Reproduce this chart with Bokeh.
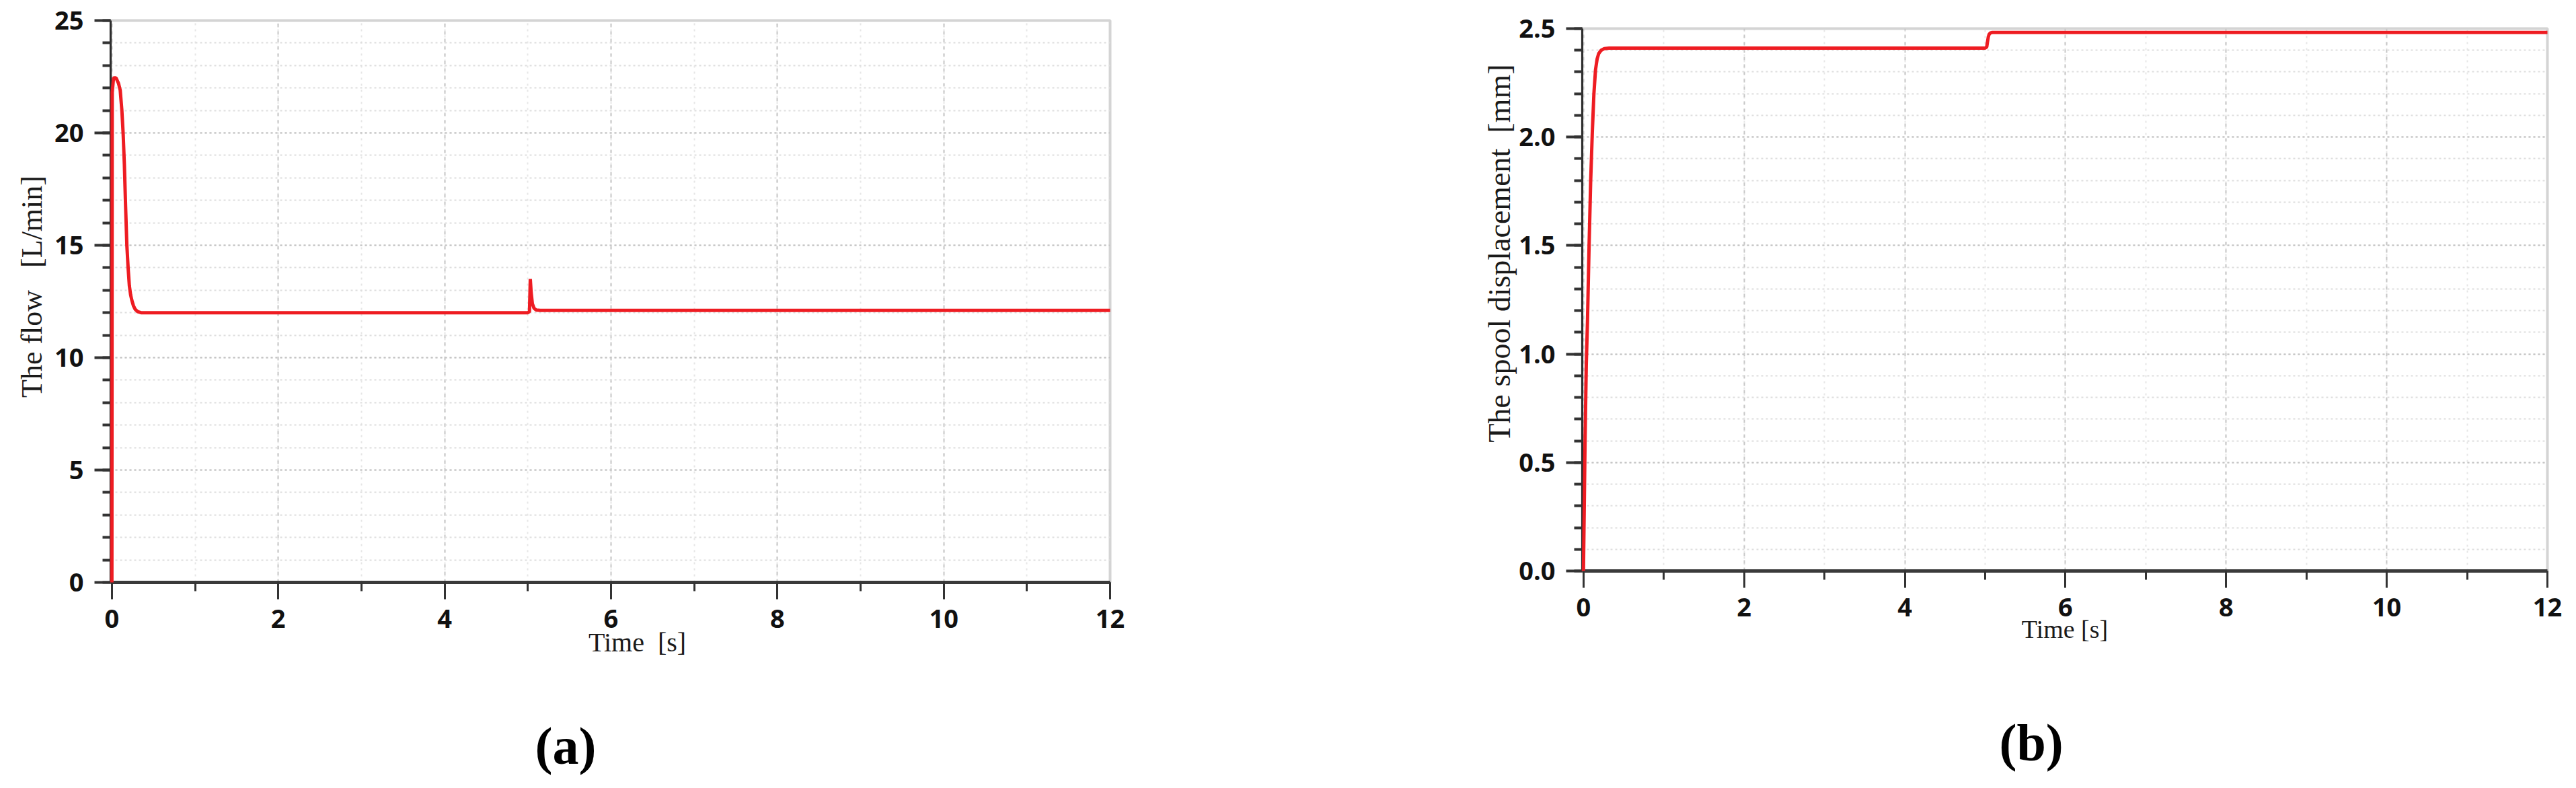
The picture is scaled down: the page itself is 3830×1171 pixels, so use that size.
from bokeh.plotting import figure
from bokeh.layouts import row
from bokeh.models import Range1d, SingleIntervalTicker, PrintfTickFormatter, Title
from bokeh.embed import file_html
from bokeh.resources import INLINE

# ---------------- data ----------------
time_a = [0.0, 0.004, 0.02, 0.05, 0.08, 0.10, 0.12, 0.135, 0.15, 0.165,
          0.18, 0.195, 0.21, 0.225, 0.24, 0.26, 0.28, 0.31, 0.35, 0.45,
          1.0, 2.0, 3.0, 4.0, 5.0, 5.02, 5.03, 5.04, 5.055, 5.075,
          5.1, 5.15, 5.25, 6.0, 8.0, 10.0, 12.0]
flow_a = [0.0, 21.8, 22.45, 22.45, 22.2, 21.9, 21.0, 20.0, 18.6, 16.7,
          15.0, 14.0, 13.2, 12.8, 12.55, 12.3, 12.15, 12.05, 12.0, 12.0,
          12.0, 12.0, 12.0, 12.0, 12.0, 12.05, 13.5, 12.9, 12.4, 12.2,
          12.12, 12.1, 12.1, 12.1, 12.1, 12.1, 12.1]

time_b = [0.0, 0.01, 0.02, 0.035, 0.05, 0.07, 0.09, 0.11, 0.13, 0.15,
          0.17, 0.19, 0.22, 0.26, 0.32, 0.5, 1.0, 2.0, 3.0, 4.0,
          5.0, 5.02, 5.03, 5.04, 5.05, 5.065, 5.09, 5.15, 6.0, 8.0,
          10.0, 12.0]
spool_b = [0.0, 0.3, 0.6, 0.95, 1.15, 1.5, 1.8, 2.02, 2.2, 2.31,
           2.36, 2.385, 2.40, 2.408, 2.41, 2.41, 2.41, 2.41, 2.41, 2.41,
           2.41, 2.415, 2.44, 2.462, 2.474, 2.48, 2.482, 2.482, 2.482, 2.482,
           2.482, 2.482]

NB = "\u00a0"
x_label_a = NB * 8 + "Time" + NB * 2 + "[s]"
x_label_b = "Time [s]"
y_label_a = NB * 4 + "The flow" + NB * 3 + "[L/min]"
y_label_b = NB * 12 + "The spool displacement" + NB * 2 + "[mm]"
panel_a = "(a)"
panel_b = "(b)"

RED = "#ee1c22"
SERIF = "Liberation Serif"
SANS = "Open Sans"


def make_fig(ymax, y_int, frame_w, frame_h, bl, br, bt, bb, yfmt=None):
    p = figure(output_backend="svg", toolbar_location=None,
               frame_width=frame_w, frame_height=frame_h,
               x_range=Range1d(-0.015, 12), y_range=Range1d(0, ymax),
               min_border_left=bl, min_border_right=br,
               min_border_top=bt, min_border_bottom=bb)
    p.background_fill_color = "white"
    p.border_fill_color = "white"
    p.outline_line_color = "#d4d4d4"
    p.outline_line_width = 4

    xt = SingleIntervalTicker(interval=2, num_minor_ticks=2)
    yt = SingleIntervalTicker(interval=y_int, num_minor_ticks=5)
    p.xaxis.ticker = xt
    p.xgrid.ticker = xt
    p.yaxis.ticker = yt
    p.ygrid.ticker = yt
    if yfmt:
        p.yaxis.formatter = PrintfTickFormatter(format=yfmt)

    # grids
    p.ygrid.grid_line_color = "#c2c2c2"
    p.ygrid.grid_line_dash = "3 4"
    p.ygrid.grid_line_width = 2
    p.ygrid.minor_grid_line_color = "#dedede"
    p.ygrid.minor_grid_line_dash = "3 4"
    p.ygrid.minor_grid_line_width = 2
    p.xgrid.grid_line_color = "#c6c6c6"
    p.xgrid.grid_line_dash = "5 6"
    p.xgrid.grid_line_width = 2
    p.xgrid.minor_grid_line_color = "#e6e6e6"
    p.xgrid.minor_grid_line_dash = "3 6"
    p.xgrid.minor_grid_line_width = 2

    # axes
    p.yaxis.axis_line_color = "#2e2e2e"
    p.yaxis.axis_line_width = 3
    p.yaxis.major_tick_line_color = "#333333"
    p.yaxis.minor_tick_line_color = "#333333"
    p.yaxis.major_tick_line_width = 4
    p.yaxis.minor_tick_line_width = 4
    p.yaxis.major_tick_out = 24
    p.yaxis.major_tick_in = 0
    p.yaxis.minor_tick_out = 12
    p.yaxis.minor_tick_in = 0
    p.yaxis.major_label_standoff = 16

    p.xaxis.axis_line_color = "#3a3a3a"
    p.xaxis.axis_line_width = 5
    p.xaxis.major_tick_line_color = "#333333"
    p.xaxis.minor_tick_line_color = "#333333"
    p.xaxis.major_tick_line_width = 3
    p.xaxis.minor_tick_line_width = 3
    p.xaxis.major_tick_out = 25
    p.xaxis.major_tick_in = 0
    p.xaxis.minor_tick_out = 13
    p.xaxis.minor_tick_in = 0
    p.xaxis.major_label_standoff = 15

    for ax in (p.xaxis, p.yaxis):
        ax.major_label_text_font = SANS
        ax.major_label_text_font_style = "bold"
        ax.major_label_text_font_size = "38px"
        ax.major_label_text_color = "#111111"
        ax.axis_label_text_font = SERIF
        ax.axis_label_text_font_style = "normal"
        ax.axis_label_text_color = "#1a1a1a"
    return p


# ---------------- panel (a) ----------------
pa = make_fig(25, 5, 1486, 835, 164, 350, 33, 295)
pa.margin = (-12, 0, 0, 0)
ra = pa.line(time_a, flow_a, line_color=RED, line_width=5)
ra.level = "overlay"
pa.xaxis.axis_label = x_label_a
pa.xaxis.axis_label_text_font_size = "40px"
pa.xaxis.axis_label_standoff = -4
pa.yaxis.axis_label = y_label_a
pa.yaxis.axis_label_text_font_size = "44px"
pa.yaxis.axis_label_standoff = 6
pa.add_layout(Title(text=panel_a, text_font=SERIF, text_font_style="bold",
                    text_font_size="78px", text_color="black",
                    align="left", offset=631, standoff=167), "below")

# ---------------- panel (b) ----------------
pb = make_fig(2.5, 0.5, 1435, 806, 352, 25, 42, 305, yfmt="%.1f")
rb = pb.line(time_b, spool_b, line_color=RED, line_width=5)
rb.level = "overlay"
pb.xaxis.axis_label = x_label_b
pb.xaxis.axis_label_text_font_size = "38px"
pb.xaxis.axis_label_standoff = -5
pb.yaxis.axis_label = y_label_b
pb.yaxis.axis_label_text_font_size = "46px"
pb.yaxis.axis_label_standoff = 0
pb.add_layout(Title(text=panel_b, text_font=SERIF, text_font_style="bold",
                    text_font_size="78px", text_color="black",
                    align="left", offset=620, standoff=198), "below")

layout = row(pa, pb)
open("out.html", "w").write(file_html(layout, INLINE))
